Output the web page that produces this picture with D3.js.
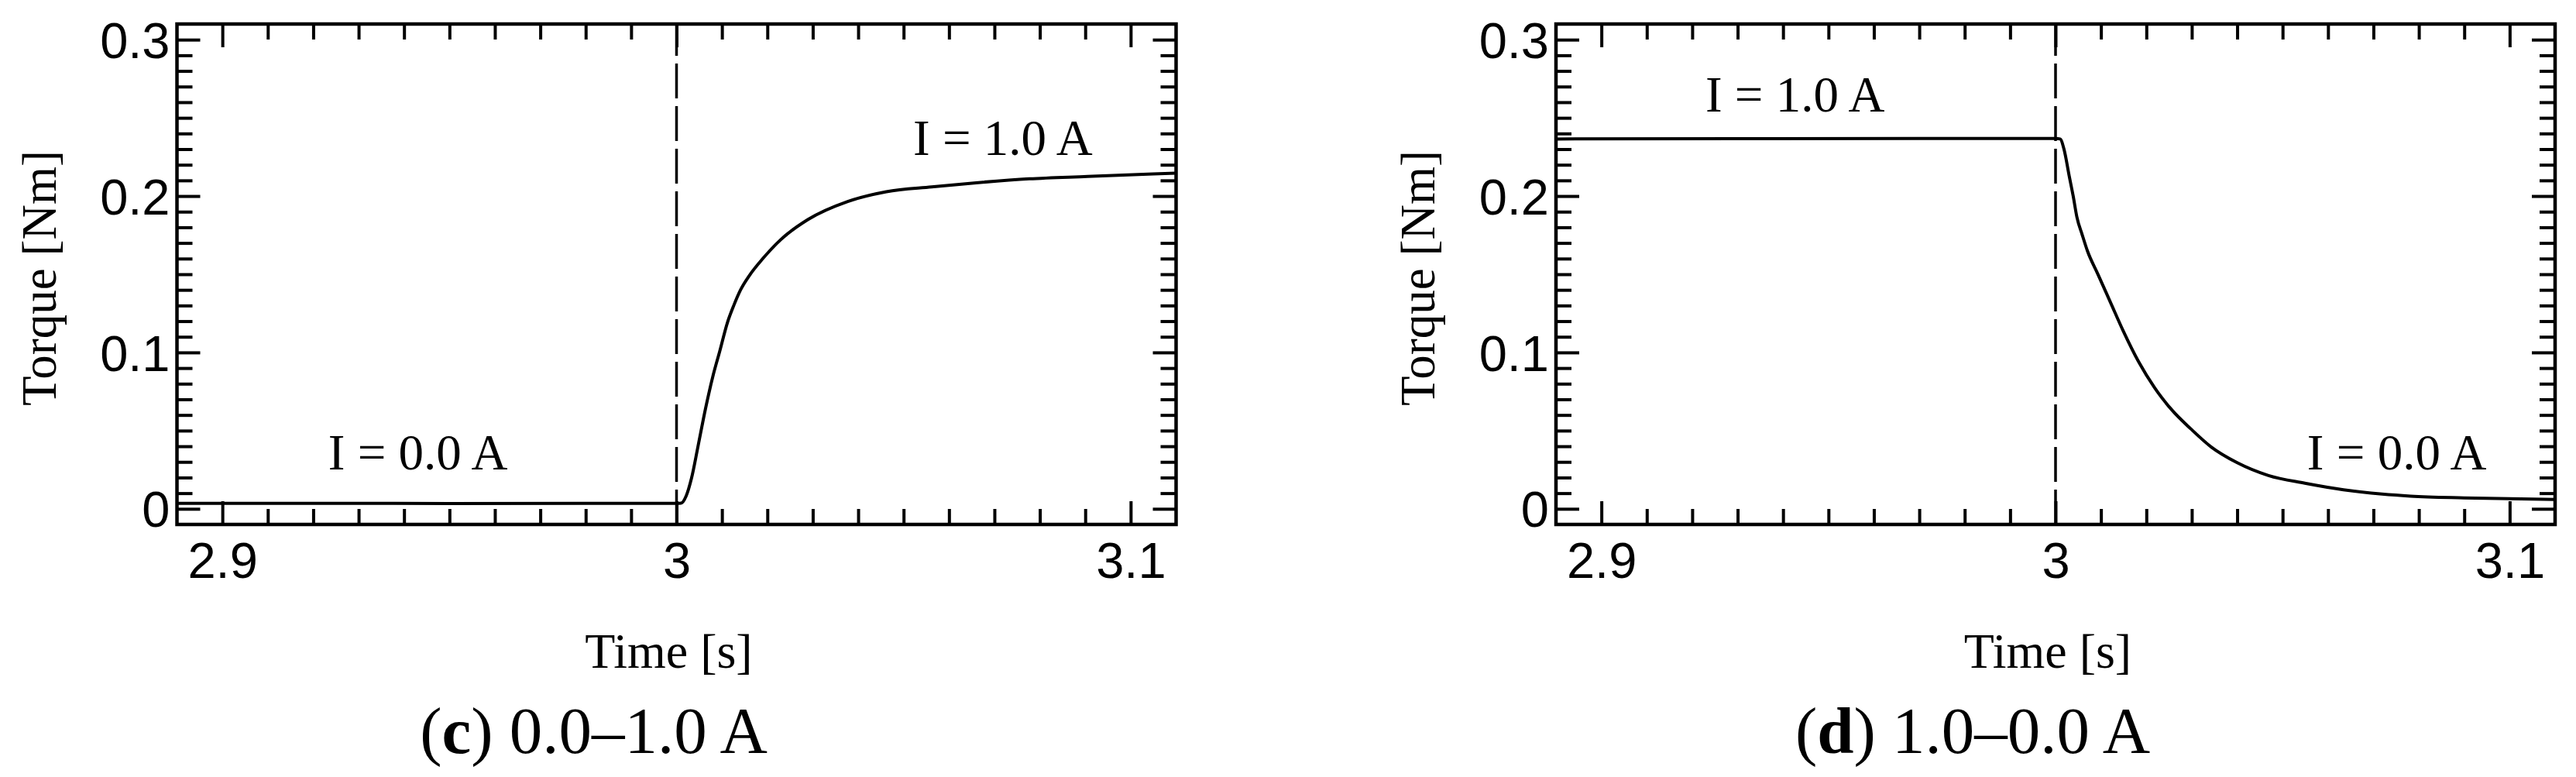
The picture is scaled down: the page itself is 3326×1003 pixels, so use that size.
<!DOCTYPE html>
<html><head><meta charset="utf-8">
<script src="https://cdn.jsdelivr.net/npm/d3@7"></script>
<style>html,body{margin:0;padding:0;background:#fff;} svg{display:block}</style>
</head><body>
<svg id="chart" width="3326" height="1003"></svg>
<script>
// ---- data ----
const timeC   = [2.89, 2.92, 2.95, 2.98, 3.0, 3.001, 3.0021, 3.0033, 3.0047, 3.0064, 3.0081, 3.0095, 3.0112, 3.0126, 3.0141, 3.016, 3.019, 3.0229, 3.0289, 3.0377, 3.0462, 3.0562, 3.066, 3.0777, 3.0905, 3.11];
const torqueC = [0.0035, 0.0035, 0.0034, 0.0035, 0.0035, 0.0036, 0.0081, 0.0196, 0.0395, 0.0643, 0.0858, 0.1006, 0.1190, 0.1300, 0.1400, 0.1490, 0.1600, 0.1720, 0.1849, 0.1965, 0.2028, 0.2059, 0.2085, 0.2110, 0.2125, 0.2147];
const timeD   = [2.89, 2.93, 2.97, 3.0, 3.001, 3.0019, 3.003, 3.0039, 3.0047, 3.0059, 3.007, 3.0093, 3.0121, 3.0149, 3.0183, 3.0218, 3.0258, 3.0298, 3.0343, 3.04, 3.0469, 3.0549, 3.0634, 3.0719, 3.0782, 3.09, 3.11];
const torqueD = [0.2365, 0.2367, 0.2368, 0.2368, 0.2365, 0.2295, 0.2130, 0.1998, 0.1866, 0.1750, 0.1651, 0.1502, 0.1320, 0.1138, 0.0940, 0.0775, 0.0626, 0.0511, 0.0395, 0.0295, 0.0213, 0.0164, 0.0122, 0.0094, 0.0081, 0.0070, 0.0060];

const xDomain = [2.89, 3.11];
const yDomain = [-0.01, 0.31];
const switchTime = 3.0;
const xMajorTicks = [2.9, 3.0, 3.1];
const xTickLabels = ["2.9", "3", "3.1"];
const xMinorTicks = [2.91, 2.92, 2.93, 2.94, 2.95, 2.96, 2.97, 2.98, 2.99, 3.01, 3.02, 3.03, 3.04, 3.05, 3.06, 3.07, 3.08, 3.09];
const yMajorTicks = [0, 0.1, 0.2, 0.3];
const yTickLabels = ["0", "0.1", "0.2", "0.3"];
const yMinorTicks = [0.01, 0.02, 0.03, 0.04, 0.05, 0.06, 0.07, 0.08, 0.09, 0.11, 0.12, 0.13, 0.14, 0.15, 0.16, 0.17, 0.18, 0.19, 0.21, 0.22, 0.23, 0.24, 0.25, 0.26, 0.27, 0.28, 0.29];
const xTitle = "Time [s]";
const yTitle = "Torque [Nm]";
const captionLetters = ["c", "d"];
const captionTexts = [" 0.0–1.0 A", " 1.0–0.0 A"];
const annotTexts = [["I = 0.0 A", "I = 1.0 A"], ["I = 1.0 A", "I = 0.0 A"]];
const annotTimes = [[2.9233, 3.0521], [2.9229, 3.0554]];
const annotTorques = [[0.0254, 0.2262], [0.254, 0.0254]];

// ---- layout ----
const panelLeft = [228.5, 2009];
const panelTop = 31, W = 1290, H = 646;
const sansFont = "'Liberation Sans', Arial, sans-serif";
const serifFont = "'Liberation Serif', 'Times New Roman', serif";

const svg = d3.select("#chart");
svg.append("rect").attr("width", 3326).attr("height", 1003).attr("fill", "#fff");

const series = [
  timeC.map((t, i) => ({t, v: torqueC[i]})),
  timeD.map((t, i) => ({t, v: torqueD[i]}))
];

function styleAxis(g, width) {
  g.select(".domain").remove();
  g.selectAll(".tick line").attr("stroke", "#000").attr("stroke-width", width);
  g.attr("font-family", sansFont).attr("font-size", 65);
  g.selectAll(".tick text").attr("fill", "#000");
}

panelLeft.forEach((left, p) => {
  const g = svg.append("g").attr("transform", `translate(${left},${panelTop})`);
  const x = d3.scaleLinear().domain(xDomain).range([0, W]);
  const y = d3.scaleLinear().domain(yDomain).range([H, 0]);
  const tw = 4;

  // bottom
  g.append("g").attr("transform", `translate(0,${H})`)
    .call(d3.axisBottom(x).tickValues(xMinorTicks).tickSize(-20).tickFormat(""))
    .call(a => styleAxis(a, tw));
  g.append("g").attr("transform", `translate(0,${H})`)
    .call(d3.axisBottom(x).tickValues(xMajorTicks).tickSize(-30).tickPadding(23).tickFormat((d, i) => xTickLabels[i]))
    .call(a => styleAxis(a, tw));
  // top
  g.append("g")
    .call(d3.axisTop(x).tickValues(xMinorTicks).tickSize(-20).tickFormat(""))
    .call(a => styleAxis(a, tw));
  g.append("g")
    .call(d3.axisTop(x).tickValues(xMajorTicks).tickSize(-30).tickFormat(""))
    .call(a => styleAxis(a, tw));
  // left
  g.append("g")
    .call(d3.axisLeft(y).tickValues(yMinorTicks).tickSize(-20).tickFormat(""))
    .call(a => styleAxis(a, tw));
  g.append("g")
    .call(d3.axisLeft(y).tickValues(yMajorTicks).tickSize(-30).tickPadding(9).tickFormat((d, i) => yTickLabels[i]))
    .call(a => { styleAxis(a, tw); a.selectAll(".tick text").attr("dy", "0.355em"); });
  // right
  g.append("g").attr("transform", `translate(${W},0)`)
    .call(d3.axisRight(y).tickValues(yMinorTicks).tickSize(-20).tickFormat(""))
    .call(a => styleAxis(a, tw));
  g.append("g").attr("transform", `translate(${W},0)`)
    .call(d3.axisRight(y).tickValues(yMajorTicks).tickSize(-30).tickFormat(""))
    .call(a => styleAxis(a, tw));

  // switching instant (dashed)
  g.append("line")
    .attr("x1", x(switchTime)).attr("x2", x(switchTime))
    .attr("y1", y(yDomain[1])).attr("y2", y(yDomain[0]))
    .attr("stroke", "#000").attr("stroke-width", 3.5)
    .attr("stroke-dasharray", "45,10").attr("stroke-dashoffset", 4);

  // data curve
  const line = d3.line().x(d => x(d.t)).y(d => y(d.v)).curve(d3.curveMonotoneX);
  g.append("path").datum(series[p]).attr("d", line)
    .attr("fill", "none").attr("stroke", "#000").attr("stroke-width", 4)
    .attr("stroke-linejoin", "round");

  // frame
  g.append("rect").attr("x", 0).attr("y", 0).attr("width", W).attr("height", H)
    .attr("fill", "none").attr("stroke", "#000").attr("stroke-width", 4.5);

  // annotations
  annotTexts[p].forEach((txt, i) => {
    g.append("text").attr("x", x(annotTimes[p][i])).attr("y", y(annotTorques[p][i]))
      .attr("font-family", serifFont).attr("font-size", 65).attr("fill", "#000")
      .text(txt);
  });

  // axis titles
  g.append("text")
    .attr("transform", `translate(-157,${H / 2 + 5}) rotate(-90)`)
    .attr("text-anchor", "middle").attr("font-family", serifFont).attr("font-size", 63)
    .attr("fill", "#000").text(yTitle);
  g.append("text")
    .attr("x", W / 2 - 10).attr("y", 862 - panelTop)
    .attr("text-anchor", "middle").attr("font-family", serifFont).attr("font-size", 64)
    .attr("fill", "#000").text(xTitle);

  // caption
  const cap = g.append("text")
    .attr("x", 538).attr("y", 972 - panelTop)
    .attr("text-anchor", "middle").attr("font-family", serifFont).attr("font-size", 85)
    .attr("fill", "#000");
  cap.append("tspan").text("(");
  cap.append("tspan").attr("font-weight", "bold").text(captionLetters[p]);
  cap.append("tspan").text(")" + captionTexts[p]);
});
</script>
</body></html>
